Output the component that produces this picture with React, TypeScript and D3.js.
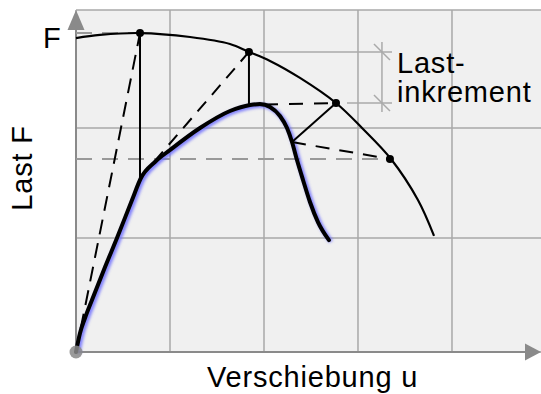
import React from "react";
import * as d3 from "d3";

// ---- data (x: displacement units, y: load units) ----
const xGrid = [0, 1, 2, 3, 4];
const yGrid = [0, 1, 1.965];

const arcX = [0, 0.255, 0.681, 1.213, 1.638, 1.84, 2.064, 2.383, 2.766, 3.043, 3.351, 3.638, 3.809];
const arcY = [2.754, 2.781, 2.798, 2.763, 2.702, 2.632, 2.553, 2.404, 2.184, 1.965, 1.693, 1.333, 1.018];

const curveX = [0, 0.043, 0.096, 0.17, 0.309, 0.436, 0.596, 0.691, 0.84, 1.0, 1.319, 1.638, 1.851, 1.957, 2.064, 2.17, 2.245, 2.298, 2.351, 2.415, 2.489, 2.574, 2.691];
const curveY = [0, 0.167, 0.298, 0.456, 0.746, 1.0, 1.333, 1.526, 1.667, 1.772, 1.965, 2.114, 2.167, 2.175, 2.149, 2.07, 1.965, 1.842, 1.684, 1.509, 1.316, 1.14, 0.982];

// arc (equilibrium) points and curve points used by the iteration
const arcPtX = [0.681, 1.84, 2.766, 3.34];
const arcPtY = [2.798, 2.632, 2.184, 1.693];
const curvePtX = [0.681, 1.84, 2.298];
const curvePtY = [1.526, 2.17, 1.842];

const W = 541;
const H = 394;

export default function App() {
  const x = d3.scaleLinear().domain([0, 4.947]).range([76, 541]);
  const y = d3.scaleLinear().domain([0, 3]).range([352, 10]);

  const arcPts: [number, number][] = arcX.map((v, i) => [v, arcY[i]]);
  const curvePts: [number, number][] = curveX.map((v, i) => [v, curveY[i]]);
  const arcLine = d3
    .line<[number, number]>()
    .x((d) => x(d[0]))
    .y((d) => y(d[1]))
    .curve(d3.curveCatmullRom.alpha(0.5));
  const curveLine = d3
    .line<[number, number]>()
    .x((d) => x(d[0]))
    .y((d) => y(d[1]))
    .curve(d3.curveMonotoneX);

  const gridColor = "#a8a8a8";
  const axisColor = "#8a8a8a";
  const font = "'Liberation Sans', Arial, sans-serif";

  const P = arcPtX.map((v, i) => [x(v), y(arcPtY[i])]);
  const C = curvePtX.map((v, i) => [x(v), y(curvePtY[i])]);
  const O = [x(0), y(0)];

  const dimX = x(3.255);
  const dimTop = y(2.719);
  const dimBot = y(2.105);
  const extEnd = x(3.362);
  const ls = 0.8;

  return (
    <svg width={W} height={H} style={{ position: "absolute", left: 0, top: 0 }} fontFamily={font}>
      <defs>
        <filter id="glow" x="-20%" y="-20%" width="140%" height="140%">
          <feGaussianBlur stdDeviation="1.4" />
        </filter>
      </defs>
      <rect x={0} y={0} width={W} height={H} fill="#ffffff" />
      {/* plot background */}
      <rect x={x(0)} y={y(3)} width={x(4.947) - x(0)} height={y(0) - y(3)} fill="#f0f0f0" />
      {/* top border */}
      <line x1={x(0)} x2={W} y1={y(3)} y2={y(3)} stroke={gridColor} strokeWidth={1.5} />
      {/* grid */}
      {xGrid.map((g) => (
        <line key={"gx" + g} x1={x(g)} x2={x(g)} y1={y(0)} y2={y(3)} stroke={gridColor} strokeWidth={1.5} />
      ))}
      {yGrid.map((g) => (
        <line key={"gy" + g} x1={x(0)} x2={W} y1={y(g)} y2={y(g)} stroke={gridColor} strokeWidth={1.5} />
      ))}
      {/* axes */}
      <line x1={x(0)} x2={W - 12} y1={y(0)} y2={y(0)} stroke={axisColor} strokeWidth={2} />
      <line x1={x(0)} x2={x(0)} y1={y(0)} y2={y(3) + 12} stroke={axisColor} strokeWidth={2} />
      <polygon points={`${W},${y(0)} ${W - 16},${y(0) - 8.5} ${W - 16},${y(0) + 8.5}`} fill={axisColor} />
      <polygon points={`${x(0)},${y(3)} ${x(0) - 8.5},${y(3) + 20} ${x(0) + 8.5},${y(3) + 20}`} fill={axisColor} />

      {/* gray dashed reference lines */}
      <line x1={x(0)} x2={P[0][0]} y1={P[0][1]} y2={P[0][1]} stroke="#999" strokeWidth={2} strokeDasharray="16,10" />
      <line x1={x(0)} x2={P[3][0]} y1={P[3][1]} y2={P[3][1]} stroke="#999" strokeWidth={2} strokeDasharray="16,10" />

      {/* dimension for Lastinkrement */}
      <g stroke="#aaaaaa" strokeWidth={1.5}>
        <line x1={x(1.957)} x2={extEnd} y1={P[1][1]} y2={P[1][1]} />
        <line x1={x(2.883)} x2={extEnd} y1={P[2][1]} y2={P[2][1]} />
        <line x1={dimX} x2={dimX} y1={dimTop} y2={dimBot} />
        <line x1={dimX - 8} x2={dimX + 8} y1={P[1][1] - 8} y2={P[1][1] + 8} />
        <line x1={dimX - 8} x2={dimX + 8} y1={P[2][1] - 8} y2={P[2][1] + 8} />
      </g>

      {/* arc */}
      <path d={arcLine(arcPts) || ""} fill="none" stroke="#000" strokeWidth={2.2} />

      {/* main curve with blue glow */}
      <path d={curveLine(curvePts) || ""} fill="none" stroke="#6a6aff" strokeOpacity={0.85} strokeWidth={4.5} filter="url(#glow)" transform="translate(2,1.5)" />
      <path d={curveLine(curvePts) || ""} fill="none" stroke="#000" strokeWidth={4} strokeLinecap="round" />

      {/* iteration lines */}
      <g stroke="#000" strokeWidth={2} fill="none">
        <line x1={O[0]} y1={O[1]} x2={P[0][0]} y2={P[0][1]} strokeDasharray="15,9" />
        <line x1={P[0][0]} y1={P[0][1]} x2={C[0][0]} y2={C[0][1]} />
        <line x1={C[0][0]} y1={C[0][1]} x2={P[1][0]} y2={P[1][1]} strokeDasharray="13,9" />
        <line x1={P[1][0]} y1={P[1][1]} x2={C[1][0]} y2={C[1][1]} />
        <line x1={C[1][0]} y1={C[1][1]} x2={x(2.0)} y2={C[1][1]} strokeWidth={3} />
        <line x1={x(2.0)} y1={C[1][1]} x2={P[2][0]} y2={P[2][1]} strokeDasharray="14,11" />
        <line x1={P[2][0]} y1={P[2][1]} x2={C[2][0]} y2={C[2][1]} />
        <line x1={C[2][0]} y1={C[2][1]} x2={P[3][0]} y2={P[3][1]} strokeDasharray="14,10" />
      </g>
      {P.map((p, i) => (
        <circle key={"p" + i} cx={p[0]} cy={p[1]} r={4} fill="#000" />
      ))}
      {/* origin */}
      <circle cx={O[0]} cy={O[1]} r={6.5} fill="#888" fillOpacity={0.85} />

      {/* texts */}
      <text x={43} y={48} fontSize={29} fill="#000">F</text>
      <text x={397} y={73} fontSize={29} letterSpacing={ls} fill="#000">Last-</text>
      <text x={397} y={102} fontSize={29} letterSpacing={ls} fill="#000">inkrement</text>
      <text x={207} y={387} fontSize={29} letterSpacing={ls} fill="#000">Verschiebung u</text>
      <text transform="translate(32,168) rotate(-90)" textAnchor="middle" fontSize={29} letterSpacing={ls} fill="#000">Last F</text>
    </svg>
  );
}
